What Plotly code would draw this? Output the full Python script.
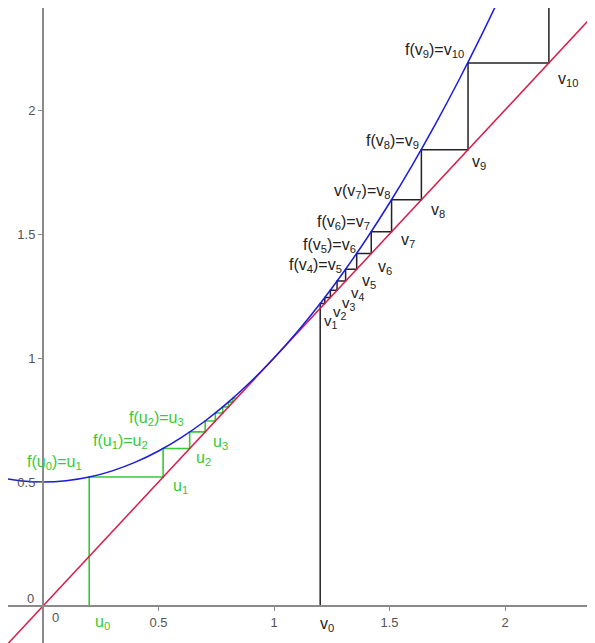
import plotly.graph_objects as go

# ---- data ----
curve_x = [-0.2, -0.1, 0.0, 0.1, 0.2, 0.3, 0.4, 0.5, 0.6, 0.7, 0.8, 0.9, 1.0,
           1.1, 1.2, 1.3, 1.4, 1.5, 1.6, 1.7, 1.8, 1.9, 2.0, 2.1]
curve_y = [0.52, 0.505, 0.5, 0.505, 0.52, 0.545, 0.58, 0.625, 0.68, 0.745, 0.82,
           0.905, 1.0, 1.105, 1.22, 1.345, 1.48, 1.625, 1.78, 1.945, 2.12, 2.305,
           2.5, 2.705]
diag_x = [-0.2, 2.5]
diag_y = [-0.2, 2.5]
u_seq = [0.2, 0.52, 0.635, 0.702, 0.746, 0.778, 0.803, 0.822, 0.838]
v_seq = [1.2, 1.22, 1.244, 1.273, 1.31, 1.358, 1.421, 1.509, 1.638, 1.84, 2.19, 2.9]
x_ticks = [0.5, 1, 1.5, 2]
y_ticks = [0.5, 1, 1.5, 2]

X_RANGE = [-0.1515, 2.3896]
Y_RANGE = [-0.1492, 2.4113]

BLUE = "#1a1ae0"
RED = "#d81b48"
GREEN = "#33cc33"
BLACK = "#222222"
AXIS = "#8a8a8a"
FONT = "Liberation Sans, Arial, sans-serif"


def cobweb(seq):
    xs, ys = [seq[0]], [0.0]
    for a, b in zip(seq[:-1], seq[1:]):
        xs += [a, b]
        ys += [b, b]
    return xs, ys


fig = go.Figure()
ux, uy = cobweb(u_seq)
vx, vy = cobweb(v_seq)
fig.add_trace(go.Scatter(x=ux, y=uy, mode="lines", line=dict(color=GREEN, width=1.6),
                         hoverinfo="skip"))
fig.add_trace(go.Scatter(x=vx, y=vy, mode="lines", line=dict(color=BLACK, width=1.5),
                         hoverinfo="skip"))
fig.add_trace(go.Scatter(x=diag_x, y=diag_y, mode="lines", line=dict(color=RED, width=1.5),
                         hoverinfo="skip"))
fig.add_trace(go.Scatter(x=curve_x, y=curve_y, mode="lines", line=dict(color=BLUE, width=1.5, shape="spline"),
                         hoverinfo="skip"))

labels = [
    # green
    ("f(u<sub>0</sub>)=u<sub>1</sub>", -0.074, 0.577, GREEN, 16),
    ("f(u<sub>1</sub>)=u<sub>2</sub>", 0.212, 0.662, GREEN, 16),
    ("f(u<sub>2</sub>)=u<sub>3</sub>", 0.368, 0.755, GREEN, 16),
    ("u<sub>1</sub>", 0.558, 0.480, GREEN, 16),
    ("u<sub>2</sub>", 0.658, 0.593, GREEN, 16),
    ("u<sub>3</sub>", 0.732, 0.661, GREEN, 16),
    ("u<sub>0</sub>", 0.221, -0.068, GREEN, 16),
    # black
    ("v<sub>0</sub>", 1.195, -0.073, BLACK, 16),
    ("v<sub>1</sub>", 1.212, 1.149, BLACK, 15),
    ("v<sub>2</sub>", 1.250, 1.184, BLACK, 15),
    ("v<sub>3</sub>", 1.292, 1.220, BLACK, 15),
    ("v<sub>4</sub>", 1.331, 1.262, BLACK, 15),
    ("v<sub>5</sub>", 1.377, 1.307, BLACK, 16),
    ("v<sub>6</sub>", 1.446, 1.363, BLACK, 16),
    ("v<sub>7</sub>", 1.545, 1.472, BLACK, 16),
    ("v<sub>8</sub>", 1.675, 1.593, BLACK, 16),
    ("v<sub>9</sub>", 1.853, 1.790, BLACK, 16),
    ("v<sub>10</sub>", 2.225, 2.125, BLACK, 16),
    ("f(v<sub>4</sub>)=v<sub>5</sub>", 1.061, 1.375, BLACK, 16),
    ("f(v<sub>5</sub>)=v<sub>6</sub>", 1.121, 1.452, BLACK, 16),
    ("f(v<sub>6</sub>)=v<sub>7</sub>", 1.182, 1.548, BLACK, 16),
    ("v(v<sub>7</sub>)=v<sub>8</sub>", 1.255, 1.673, BLACK, 16),
    ("f(v<sub>8</sub>)=v<sub>9</sub>", 1.394, 1.871, BLACK, 16),
    ("f(v<sub>9</sub>)=v<sub>10</sub>", 1.563, 2.238, BLACK, 16),
]
for text, x, y, col, size in labels:
    fig.add_annotation(x=x, y=y, xref="x", yref="y", text=text, showarrow=False,
                       xanchor="left", yanchor="middle", borderpad=0,
                       font=dict(family=FONT, size=size, color=col))

# zero labels of the axes
fig.add_annotation(x=0.052, y=-0.048, xref="x", yref="y", text="0", showarrow=False,
                   borderpad=0, font=dict(family=FONT, size=13, color="#555555"))
fig.add_annotation(x=-0.056, y=0.032, xref="x", yref="y", text="0", showarrow=False,
                   borderpad=0, font=dict(family=FONT, size=13, color="#555555"))

xpos = (0 - Y_RANGE[0]) / (Y_RANGE[1] - Y_RANGE[0])
ypos = (0 - X_RANGE[0]) / (X_RANGE[1] - X_RANGE[0])

fig.update_layout(
    width=587, height=635,
    margin=dict(l=0, r=0, t=0, b=0),
    paper_bgcolor="white", plot_bgcolor="white",
    showlegend=False,
    xaxis=dict(range=X_RANGE, showgrid=False, zeroline=False, showline=True,
               linecolor=AXIS, linewidth=2, anchor="free", position=xpos,
               tickmode="array", tickvals=x_ticks, ticktext=[str(t) for t in x_ticks],
               ticks="outside", ticklen=4, tickwidth=1, tickcolor=AXIS,
               tickfont=dict(family=FONT, size=13, color="#555555")),
    yaxis=dict(range=Y_RANGE, showgrid=False, zeroline=False, showline=True,
               linecolor=AXIS, linewidth=2, anchor="free", position=ypos,
               tickmode="array", tickvals=y_ticks, ticktext=[str(t) for t in y_ticks],
               ticks="outside", ticklen=4, tickwidth=1, tickcolor=AXIS,
               tickfont=dict(family=FONT, size=13, color="#555555")),
)

fig.write_html("out.html")
